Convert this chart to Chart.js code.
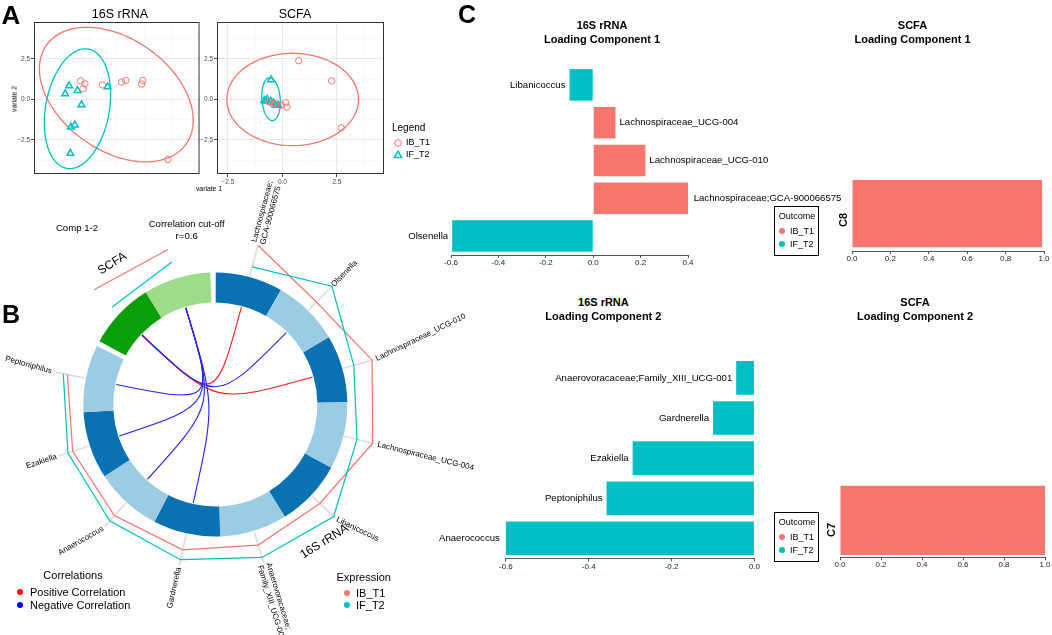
<!DOCTYPE html>
<html>
<head>
<meta charset="utf-8">
<script src="https://cdn.jsdelivr.net/npm/chart.js@4.4.1/dist/chart.umd.min.js"></script>
<style>
  body { margin: 0; width: 1052px; height: 635px; position: relative; overflow: hidden; background: #fff;
         font-family: "Liberation Sans", Arial, Helvetica, sans-serif; }
  canvas { position: absolute; }
  .t { position: absolute; white-space: nowrap; line-height: 1; color: #000; }
  .dot { position: absolute; border-radius: 50%; }
</style>
</head>
<body>
<script>
// ---------------- data ----------------
const groups = ['IB_T1', 'IF_T2'];
const groupColors = ['#F8766D', '#00BFC4'];

// A: sample scores [variate 1, variate 2]
const rnaIB = [[-0.78, 1.15], [-0.59, 0.97], [-0.68, 0.66], [0.2, 0.9], [1.07, 1.07], [1.26, 1.17], [2.03, 1.17], [1.98, 0.95], [3.17, -3.7]];
const rnaIF = [[-1.31, 0.85], [-1.49, 0.35], [-0.93, 0.55], [0.44, 0.78], [-0.75, -0.33], [-1.05, -1.58], [-1.23, -1.71], [-1.25, -3.33]];
const scfaIB = [[0.75, 2.39], [2.26, 1.15], [0.15, -0.2], [0.21, -0.47], [2.69, -1.75], [-0.05, -0.35], [-0.3, -0.28], [-0.6, -0.15], [-0.45, -0.25]];
const scfaIF = [[-0.52, 1.21], [-0.83, -0.06], [-0.7, 0.0], [-0.54, -0.1], [-0.41, -0.2], [-0.31, -0.35], [-0.2, -0.35], [-0.76, -0.1]];
// confidence ellipses: centre x, centre y, semi-axis 1 (dx, dy), semi-axis 2 (dx, dy)
const rnaEllipseIB = [0.83, 0.3, 3.17, -3.04, -1.45, -2.83];
const rnaEllipseIF = [-0.93, -0.57, 0.49, 3.68, 1.42, -0.35];
const scfaEllipseIB = [0.47, 0.0, 3.02, 0, 0, 2.85];
const scfaEllipseIF = [-0.52, 0.02, 0.42, 0, -0.06, 1.32];
const scoreTicks = [-2.5, 0, 2.5];

// B: circos
const rnaFeatures = ['Lachnospiraceae;GCA-900066575', 'Olsenella', 'Lachnospiraceae_UCG-010', 'Lachnospiraceae_UCG-004',
  'Libanicoccus', 'Anaerovoracaceae;Family_XIII_UCG-001', 'Gardnerella', 'Anaerococcus', 'Ezakiella', 'Peptoniphilus'];
const scfaFeatures = ['C8', 'C7'];
const rnaExprIB = [0.89, 0.14, 0.82, 0.79, 0.14, 0.25, 0.32, 0.36, 0.36, 0.39];
const rnaExprIF = [0.09, 0.93, 0.14, 0.21, 0.82, 0.71, 0.68, 0.61, 0.54, 0.54];
const scfaExprIB = [0.96, 0.79];
const scfaExprIF = [0.07, 0.32];
// [16S feature, SCFA feature, sign]
const correlations = [
  ['Lachnospiraceae;GCA-900066575', 'C8', 1],
  ['Lachnospiraceae_UCG-010', 'C8', 1],
  ['Olsenella', 'C8', -1],
  ['Gardnerella', 'C7', -1],
  ['Anaerococcus', 'C7', -1],
  ['Ezakiella', 'C7', -1],
  ['Peptoniphilus', 'C7', -1]
];

// C: loadings
const load1Names = ['Libanicoccus', 'Lachnospiraceae_UCG-004', 'Lachnospiraceae_UCG-010', 'Lachnospiraceae;GCA-900066575', 'Olsenella'];
const load1Values = [-0.10, 0.094, 0.22, 0.407, -0.595];
const load2Names = ['Anaerovoracaceae;Family_XIII_UCG-001', 'Gardnerella', 'Ezakiella', 'Peptoniphilus', 'Anaerococcus'];
const load2Values = [-0.044, -0.10, -0.294, -0.357, -0.605];
const scfaLoad1Names = ['C8'];
const scfaLoad1Values = [0.99];
const scfaLoad2Names = ['C7'];
const scfaLoad2Values = [1.0];
const rnaLoad1Range = [-0.6, 0.4];
const rnaLoad2Range = [-0.6, 0];
const scfaLoadRange = [0, 1];

// ---------------- helpers ----------------
const FONT = '"Liberation Sans", Arial, Helvetica, sans-serif';

function makeCanvas(x, y, w, h) {
  const c = document.createElement('canvas');
  c.width = w; c.height = h;
  c.style.left = x + 'px'; c.style.top = y + 'px';
  c.style.width = w + 'px'; c.style.height = h + 'px';
  document.body.appendChild(c);
  return c;
}

function label(text, x, y, o = {}) {
  const d = document.createElement('div');
  d.className = 't';
  d.textContent = text;
  d.style.left = x + 'px';
  d.style.top = y + 'px';
  d.style.fontSize = (o.size || 10) + 'px';
  if (o.bold) d.style.fontWeight = 'bold';
  if (o.color) d.style.color = o.color;
  const tx = o.align === 'left' ? '0' : o.align === 'right' ? '-100%' : '-50%';
  d.style.transform = `translate(${tx},-50%)` + (o.rotate ? ` rotate(${o.rotate}deg)` : '');
  document.body.appendChild(d);
  return d;
}

function dot(x, y, r, color) {
  const d = document.createElement('div');
  d.className = 'dot';
  d.style.left = (x - r) + 'px'; d.style.top = (y - r) + 'px';
  d.style.width = 2 * r + 'px'; d.style.height = 2 * r + 'px';
  d.style.background = color;
  document.body.appendChild(d);
}

const isMajor = v => scoreTicks.some(t => Math.abs(t - v) < 1e-6);
const minusFmt = v => (v < 0 ? '\u2212' : '') + Math.abs(v).toFixed(1);

// ---------------- panel A ----------------
const scorePanel = {
  id: 'scorePanel',
  beforeDatasetsDraw(chart, args, opts) {
    const { ctx, scales: { x, y } } = chart;
    opts.ellipses.forEach((e, k) => {
      ctx.save();
      ctx.beginPath();
      for (let i = 0; i <= 120; i++) {
        const t = i / 120 * 2 * Math.PI;
        const vx = e[0] + e[2] * Math.cos(t) + e[4] * Math.sin(t);
        const vy = e[1] + e[3] * Math.cos(t) + e[5] * Math.sin(t);
        const px = x.getPixelForValue(vx), py = y.getPixelForValue(vy);
        if (i) ctx.lineTo(px, py); else ctx.moveTo(px, py);
      }
      ctx.closePath();
      ctx.strokeStyle = groupColors[k];
      ctx.lineWidth = 1.3;
      ctx.stroke();
      ctx.restore();
    });
  },
  afterDraw(chart, args, opts) {
    const { ctx, chartArea: a } = chart;
    ctx.save();
    ctx.strokeStyle = '#333';
    ctx.lineWidth = 1;
    ctx.strokeRect(a.left + 0.5, a.top + 0.5, a.width - 1, a.height - 1);
    if (opts.legend) {
      const lx = a.right + 8;
      ctx.fillStyle = '#000';
      ctx.textBaseline = 'middle';
      ctx.font = '10px ' + FONT;
      ctx.fillText('Legend', lx, 128);
      ctx.font = '9px ' + FONT;
      groups.forEach((g, k) => {
        const py = 143 + k * 12, px = lx + 6;
        ctx.strokeStyle = groupColors[k];
        ctx.beginPath();
        if (k === 0) {
          ctx.lineWidth = 1;
          ctx.arc(px, py, 3.3, 0, 2 * Math.PI);
        } else {
          ctx.lineWidth = 1.5;
          ctx.moveTo(px, py - 3.8); ctx.lineTo(px + 3.6, py + 2.6); ctx.lineTo(px - 3.6, py + 2.6); ctx.closePath();
        }
        ctx.stroke();
        ctx.fillText(g, lx + 14, py);
      });
    }
    ctx.restore();
  }
};

function scoreScale(min, max, size, horizontal) {
  return {
    type: 'linear', min, max,
    ticks: {
      stepSize: 1.25, includeBounds: false, autoSkip: false, maxRotation: 0, padding: 1,
      font: { size: 6.5, family: FONT }, color: '#4d4d4d',
      callback: v => isMajor(v) ? minusFmt(v) : ''
    },
    grid: {
      color: c => isMajor(c.tick.value) ? '#e6e6e6' : '#f3f3f3',
      lineWidth: c => isMajor(c.tick.value) ? 0.9 : 0.5,
      tickColor: c => isMajor(c.tick.value) ? '#333' : 'rgba(0,0,0,0)',
      tickLength: 3
    },
    border: { display: false },
    afterFit: s => { if (horizontal) s.height = size; else s.width = size; }
  };
}

function scoreChart(canvas, ib, iff, ellipses, xr, yWidth, pad, legend) {
  return new Chart(canvas, {
    type: 'scatter',
    data: {
      datasets: [
        { label: groups[0], data: ib.map(p => ({ x: p[0], y: p[1] })), pointStyle: 'circle', radius: 3.2,
          borderWidth: 1, borderColor: groupColors[0], backgroundColor: 'rgba(0,0,0,0)' },
        { label: groups[1], data: iff.map(p => ({ x: p[0], y: p[1] })), pointStyle: 'triangle', radius: 3.9,
          borderWidth: 1.5, borderColor: groupColors[1], backgroundColor: 'rgba(0,0,0,0)' }
      ]
    },
    options: {
      responsive: false, animation: false, events: [],
      layout: { padding: pad },
      plugins: { legend: { display: false }, tooltip: { enabled: false }, scorePanel: { ellipses, legend } },
      scales: {
        x: scoreScale(xr[0], xr[1], 26, true),
        y: scoreScale(-4.6, 4.78, yWidth, false)
      }
    },
    plugins: [scorePanel]
  });
}

scoreChart(makeCanvas(0, 0, 205, 200), rnaIB, rnaIF, [rnaEllipseIB, rnaEllipseIF], [-2.9, 4.6], 34,
  { left: 0, right: 4, top: 22, bottom: 0 }, false);
scoreChart(makeCanvas(200, 0, 232, 200), scfaIB, scfaIF, [scfaEllipseIB, scfaEllipseIF], [-3.0, 4.66], 17,
  { left: 0, right: 48, top: 22, bottom: 0 }, true);

label('A', 11, 14.5, { size: 26, bold: true });
label('16S rRNA', 120, 14, { size: 12.5 });
label('SCFA', 295, 14, { size: 12.5 });
label('variate 2', 14.5, 99, { size: 6.8, rotate: -90 });
label('variate 1', 209, 188.5, { size: 6.8 });

// ---------------- panel B ----------------
const ringData = [], ringColors = [];
rnaFeatures.forEach((f, i) => { ringData.push(1); ringColors.push(i % 2 ? '#9ccbe4' : '#0a71b2'); });
ringData.push(0.08); ringColors.push('rgba(0,0,0,0)');
scfaFeatures.forEach((f, i) => { ringData.push(1); ringColors.push(i % 2 ? '#9fdc8a' : '#0b9f0b'); });
ringData.push(0.08); ringColors.push('rgba(0,0,0,0)');

// label rotation nudges (degrees) where the original layout is not strictly radial
const labelTilt = { 'Lachnospiraceae_UCG-010': -10, 'Libanicoccus': -18, 'Anaerococcus': 18, 'Peptoniphilus': 4 };

const circos = {
  id: 'circos',
  afterDatasetsDraw(chart) {
    const ctx = chart.ctx;
    const arcs = chart.getDatasetMeta(0).data;
    const cx = arcs[0].x, cy = arcs[0].y, R = arcs[0].outerRadius, r0 = arcs[0].innerRadius;
    const nR = rnaFeatures.length;
    const ang = k => (arcs[k].startAngle + arcs[k].endAngle) / 2;
    const P = (a, r) => [cx + r * Math.cos(a), cy + r * Math.sin(a)];
    const rnaIdx = rnaFeatures.map((f, i) => i);
    const scfaIdx = scfaFeatures.map((f, j) => nR + 1 + j);
    ctx.save();

    // correlation chords, positives first
    [...correlations].sort((a, b) => b[2] - a[2]).forEach(c => {
      const p1 = P(ang(rnaFeatures.indexOf(c[0])), r0 - 1);
      const p2 = P(ang(scfaIdx[scfaFeatures.indexOf(c[1])]), r0 - 1);
      ctx.beginPath();
      ctx.moveTo(p1[0], p1[1]);
      ctx.bezierCurveTo(cx, cy, cx, cy, p2[0], p2[1]);
      ctx.strokeStyle = c[2] > 0 ? '#ff1a1a' : '#2222f0';
      ctx.lineWidth = 1.1;
      ctx.stroke();
    });

    // spokes
    ctx.strokeStyle = '#dcdcdc';
    ctx.lineWidth = 1.6;
    rnaIdx.forEach(k => {
      const a = ang(k), p = P(a, R + 1), q = P(a, R + 33);
      ctx.beginPath(); ctx.moveTo(p[0], p[1]); ctx.lineTo(q[0], q[1]); ctx.stroke();
    });

    // expression lines
    const exprR = v => R + 8 + v * 28;
    const line = (idx, vals, color) => {
      ctx.beginPath();
      idx.forEach((k, i) => {
        const p = P(ang(k), exprR(vals[i]));
        if (i) ctx.lineTo(p[0], p[1]); else ctx.moveTo(p[0], p[1]);
      });
      ctx.strokeStyle = color;
      ctx.lineWidth = 1.2;
      ctx.stroke();
    };
    line(rnaIdx, rnaExprIB, groupColors[0]);
    line(rnaIdx, rnaExprIF, groupColors[1]);
    line(scfaIdx, scfaExprIB, groupColors[0]);
    line(scfaIdx, scfaExprIF, groupColors[1]);

    // feature labels
    ctx.fillStyle = '#000';
    ctx.font = '8px ' + FONT;
    ctx.textBaseline = 'middle';
    rnaFeatures.forEach((name, k) => {
      const a = ang(k), p = P(a, R + 35);
      const cut = name.indexOf(';');
      const lines = cut > 0 ? [name.slice(0, cut + 1), name.slice(cut + 1)] : [name];
      const right = Math.cos(a) >= 0;
      const tilt = (labelTilt[name] || 0) * Math.PI / 180;
      ctx.save();
      ctx.translate(p[0], p[1]);
      ctx.rotate((right ? a : a + Math.PI) + tilt);
      ctx.textAlign = right ? 'left' : 'right';
      lines.forEach((t, i) => ctx.fillText(t, 0, (i - (lines.length - 1) / 2) * 9 * (right ? 1 : -1)));
      ctx.restore();
    });
    ctx.restore();
  }
};

new Chart(makeCanvas(0, 180, 530, 455), {
  type: 'doughnut',
  data: { labels: [...rnaFeatures, '', ...scfaFeatures, ''],
          datasets: [{ data: ringData, backgroundColor: ringColors, borderWidth: 0, hoverOffset: 0 }] },
  options: {
    responsive: false, animation: false, events: [],
    rotation: 0.2, circumference: 360, radius: 132, cutout: 116,
    layout: { padding: { left: 65.3, right: 164.7, top: 74.5, bottom: 80.5 } },
    plugins: { legend: { display: false }, tooltip: { enabled: false } }
  },
  plugins: [circos]
});

label('B', 11, 313.5, { size: 25, bold: true });
label('Comp 1-2', 77, 228, { size: 9.6 });
label('Correlation cut-off', 186.7, 224.3, { size: 9.6 });
label('r=0.6', 186.7, 236, { size: 9.6 });
label('SCFA', 112.3, 262.7, { size: 12, rotate: -32 });
label('16S rRNA', 324, 541, { size: 12, rotate: -32 });
label('Correlations', 73, 575, { size: 11 });
dot(20, 592, 3.2, '#ff0000');
label('Positive Correlation', 30, 592, { size: 11, align: 'left' });
dot(20, 605, 3.2, '#0000ff');
label('Negative Correlation', 30, 605, { size: 11, align: 'left' });
label('Expression', 363.7, 576.7, { size: 11 });
groups.forEach((g, k) => {
  dot(346.7, 592.7 + k * 12.5, 3.2, groupColors[k]);
  label(g, 356, 592.7 + k * 12.5, { size: 11, align: 'left' });
});

// ---------------- panel C ----------------
const barLabels = {
  id: 'barLabels',
  afterDatasetsDraw(chart) {
    const { ctx } = chart;
    const meta = chart.getDatasetMeta(0);
    const names = chart.data.labels, vals = chart.data.datasets[0].data;
    ctx.save();
    ctx.font = '9.6px ' + FONT;
    ctx.fillStyle = '#000';
    ctx.textBaseline = 'middle';
    meta.data.forEach((bar, i) => {
      const neg = vals[i] < 0;
      ctx.textAlign = neg ? 'right' : 'left';
      ctx.fillText(names[i], bar.x + (neg ? -4 : 4), bar.y);
    });
    ctx.restore();
  }
};

function loadingChart(canvas, names, values, range, pad, barPct, withLabels) {
  return new Chart(canvas, {
    type: 'bar',
    data: {
      labels: names,
      datasets: [{ data: values, backgroundColor: values.map(v => v > 0 ? groupColors[0] : groupColors[1]),
                   borderWidth: 0, barPercentage: barPct, categoryPercentage: 1 }]
    },
    options: {
      indexAxis: 'y', responsive: false, animation: false, events: [],
      layout: { padding: pad },
      plugins: { legend: { display: false }, tooltip: { enabled: false } },
      scales: {
        y: { display: false },
        x: {
          type: 'linear', min: range[0], max: range[1],
          ticks: { stepSize: 0.2, autoSkip: false, maxRotation: 0, padding: 0,
                   font: { size: 8, family: FONT }, color: '#222',
                   callback: v => (Math.abs(v) < 1e-9 ? 0 : v).toFixed(1) },
          grid: { drawOnChartArea: false, drawTicks: true, tickLength: 3, color: '#555' },
          border: { display: true, color: '#555', width: 1 },
          afterFit: s => { s.height = 16; }
        }
      }
    },
    plugins: withLabels ? [barLabels] : []
  });
}

loadingChart(makeCanvas(385, 50, 470, 230), load1Names, load1Values, rnaLoad1Range,
  { left: 66, right: 167, top: 16, bottom: 9 }, 0.834, true);
loadingChart(makeCanvas(765, 165, 287, 115), scfaLoad1Names, scfaLoad1Values, scfaLoadRange,
  { left: 87, right: 8, top: 11.3, bottom: 13 }, 0.9, false);
loadingChart(makeCanvas(430, 330, 330, 250), load2Names, load2Values, rnaLoad2Range,
  { left: 75.9, right: 4.3, top: 27.8, bottom: 5.5 }, 0.84, true);
loadingChart(makeCanvas(765, 470, 287, 110), scfaLoad2Names, scfaLoad2Values, scfaLoadRange,
  { left: 75, right: 7, top: 13.5, bottom: 6.8 }, 0.94, false);

label('C', 467, 14, { size: 25, bold: true });
[[602, 25, '16S rRNA', 'Loading Component 1'], [912.5, 25, 'SCFA', 'Loading Component 1'],
 [603.4, 301.7, '16S rRNA', 'Loading Component 2'], [915, 301.7, 'SCFA', 'Loading Component 2']].forEach(t => {
  label(t[2], t[0], t[1], { size: 11, bold: true });
  label(t[3], t[0], t[1] + 14, { size: 11, bold: true });
});
label(scfaLoad1Names[0], 843, 220, { size: 11, bold: true, rotate: -90 });
label(scfaLoad2Names[0], 831, 530, { size: 11, bold: true, rotate: -90 });

// Outcome legends
[206, 512].forEach(top => {
  const box = document.createElement('div');
  box.style.cssText = `position:absolute;left:774px;top:${top}px;width:43px;height:48px;border:1.5px solid #000;`;
  document.body.appendChild(box);
  label('Outcome', 797, top + 10, { size: 9 });
  groups.forEach((g, k) => {
    dot(782, top + 25 + k * 13, 3, groupColors[k]);
    label(g, 790, top + 25 + k * 13, { size: 9, align: 'left' });
  });
});
</script>
</body>
</html>
